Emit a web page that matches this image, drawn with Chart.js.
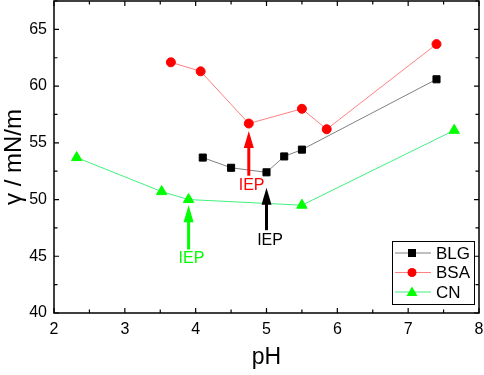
<!DOCTYPE html>
<html>
<head>
<meta charset="UTF-8">
<title>Surface tension vs pH</title>
<script src="https://cdn.jsdelivr.net/npm/chart.js"></script>
<style>
  body { margin: 0; background: #ffffff; }
  .box { width: 484px; height: 375px; }
</style>
</head>
<body>
<div class="box"><canvas id="c"></canvas></div>
<script>
// values
const blgX = [4.1, 4.5, 5.0, 5.25, 5.5, 7.4];
const blgY = [53.7, 52.8, 52.4, 53.8, 54.4, 60.6];
const bsaX = [3.65, 4.07, 4.75, 5.5, 5.85, 7.4];
const bsaY = [62.1, 61.3, 56.7, 58.0, 56.2, 63.7];
const cnX = [2.32, 3.52, 3.9, 5.5, 7.65];
const cnY = [53.7, 50.7, 50.0, 49.5, 56.1];

// IEP arrows: x, y of tail, y of tip, label position
const iepX = [4.75, 5.0, 3.9];
const iepFrom = [52.1, 47.3, 45.6];
const iepTo = [56.05, 51.05, 49.5];
const iepLabelX = [4.79, 5.05, 3.94];
const iepLabelY = [51.2, 46.4, 44.8];
const iepColor = ['#ff0000', '#000000', '#00ff00'];

const xMin = 2, xMax = 8, yMin = 40, yMax = 67.5;

const pts = (xs, ys) => xs.map((x, i) => ({ x: x, y: ys[i] }));
const FONT = '"Liberation Sans", Arial, sans-serif';

// frame with inward ticks on all four sides, arrows and legend
const frame = {
  id: 'frame',
  afterDraw(chart) {
    const ctx = chart.ctx, a = chart.chartArea;
    const xs = chart.scales.x, ys = chart.scales.y;
    ctx.save();
    ctx.strokeStyle = '#000';
    ctx.lineWidth = 1.5;
    ctx.strokeRect(a.left, a.top, a.right - a.left, a.bottom - a.top);
    ctx.lineWidth = 1.2;
    ctx.beginPath();
    for (let v = xMin; v <= xMax + 1e-9; v += 0.5) {
      const p = xs.getPixelForValue(v);
      const len = Number.isInteger(v) ? 5 : 3.5;
      ctx.moveTo(p, a.bottom); ctx.lineTo(p, a.bottom - len);
      ctx.moveTo(p, a.top); ctx.lineTo(p, a.top + len);
    }
    for (let v = yMin; v <= yMax + 1e-9; v += 2.5) {
      const p = ys.getPixelForValue(v);
      const len = v % 5 === 0 ? 5 : 3.5;
      ctx.moveTo(a.left, p); ctx.lineTo(a.left + len, p);
      ctx.moveTo(a.right, p); ctx.lineTo(a.right - len, p);
    }
    ctx.stroke();

    // IEP arrows
    ctx.font = '16px ' + FONT;
    ctx.textAlign = 'center';
    ctx.textBaseline = 'middle';
    iepX.forEach((x, i) => {
      const px = xs.getPixelForValue(x);
      const y0 = ys.getPixelForValue(iepFrom[i]);
      const y1 = ys.getPixelForValue(iepTo[i]);
      ctx.strokeStyle = iepColor[i];
      ctx.fillStyle = iepColor[i];
      ctx.lineWidth = 3;
      ctx.beginPath();
      ctx.moveTo(px, y0); ctx.lineTo(px, y1 + 12);
      ctx.stroke();
      ctx.beginPath();
      ctx.moveTo(px, y1);
      ctx.lineTo(px - 5, y1 + 17);
      ctx.lineTo(px + 5, y1 + 17);
      ctx.closePath();
      ctx.fill();
      ctx.fillText('IEP', xs.getPixelForValue(iepLabelX[i]), ys.getPixelForValue(iepLabelY[i]));
    });

    // legend box bottom right
    const lx = 392, ly = 241, lw = 82, lh = 63;
    ctx.fillStyle = '#fff';
    ctx.fillRect(lx, ly, lw, lh);
    ctx.strokeStyle = '#000';
    ctx.lineWidth = 1;
    ctx.strokeRect(lx + 0.5, ly + 0.5, lw, lh);
    ctx.textAlign = 'left';
    ctx.font = '17px ' + FONT;
    chart.data.datasets.forEach((ds, i) => {
      const cy = ly + 12 + i * 19.5;
      ctx.strokeStyle = ds.borderColor;
      ctx.lineWidth = 1;
      ctx.beginPath();
      ctx.moveTo(lx + 3, cy); ctx.lineTo(lx + 39, cy);
      ctx.stroke();
      ctx.fillStyle = ds.pointBackgroundColor;
      const mx = lx + 20;
      ctx.beginPath();
      if (ds.pointStyle === 'rect') ctx.rect(mx - 4, cy - 4, 8, 8);
      else if (ds.pointStyle === 'circle') ctx.arc(mx, cy, 4.5, 0, Math.PI * 2);
      else { ctx.moveTo(mx, cy - 5.5); ctx.lineTo(mx - 5.5, cy + 4); ctx.lineTo(mx + 5.5, cy + 4); ctx.closePath(); }
      ctx.fill();
      ctx.fillStyle = '#000';
      ctx.fillText(ds.label, lx + 44, cy + 1);
    });
    ctx.restore();
  }
};

new Chart(document.getElementById('c'), {
  type: 'scatter',
  data: {
    datasets: [
      { label: 'BLG', data: pts(blgX, blgY), showLine: true,
        borderColor: '#808080', borderWidth: 1,
        pointStyle: 'rect', pointRadius: 5, pointBackgroundColor: '#000', pointBorderColor: '#000' },
      { label: 'BSA', data: pts(bsaX, bsaY), showLine: true,
        borderColor: '#ff8080', borderWidth: 1,
        pointStyle: 'circle', pointRadius: 4.5, pointBackgroundColor: '#ff0000', pointBorderColor: '#ff0000' },
      { label: 'CN', data: pts(cnX, cnY), showLine: true,
        borderColor: '#40f080', borderWidth: 1,
        pointStyle: 'triangle', pointRadius: 6, pointBackgroundColor: '#00ff00', pointBorderColor: '#00ff00' }
    ]
  },
  options: {
    responsive: true,
    maintainAspectRatio: false,
    animation: false,
    layout: { autoPadding: false, padding: { top: 1, right: 5, left: 0, bottom: 0 } },
    plugins: { legend: { display: false }, tooltip: { enabled: false } },
    scales: {
      x: {
        type: 'linear', min: xMin, max: xMax,
        grid: { display: false, drawTicks: false },
        border: { display: false },
        ticks: { stepSize: 1, padding: 7, color: '#000', font: { family: FONT, size: 16 } },
        title: { display: true, text: 'pH', color: '#000', padding: { top: 0, bottom: 4 },
                 font: { family: FONT, size: 23 } },
        afterFit: s => { s.height = 62; s.paddingLeft = 0; s.paddingRight = 0; }
      },
      y: {
        type: 'linear', min: yMin, max: yMax,
        grid: { display: false, drawTicks: false },
        border: { display: false },
        ticks: { stepSize: 5, padding: 7, color: '#000', font: { family: FONT, size: 16 },
                 callback: v => (v % 5 === 0 ? v : '') },
        title: { display: true, text: 'γ / mN/m', color: '#000', padding: { top: 0, bottom: 0 },
                 font: { family: FONT, size: 24 } },
        afterFit: s => { s.width = 54; s.paddingTop = 0; s.paddingBottom = 0; }
      }
    }
  },
  plugins: [frame]
});
</script>
</body>
</html>
